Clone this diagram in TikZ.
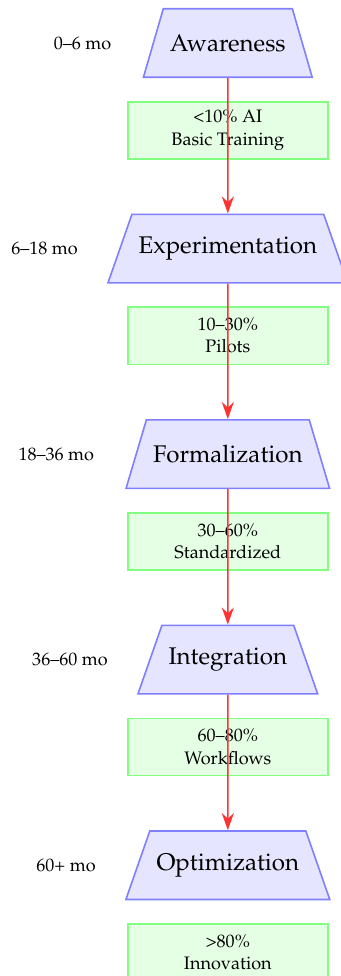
\documentclass[tikz,border=0pt]{standalone}
\usepackage[T1]{fontenc}
\usepackage{mathpazo}
\usepackage{xcolor}
\usetikzlibrary{positioning,shapes.geometric,arrows.meta}

\begin{document}
\begin{tikzpicture}[
    node distance=1cm,
    stagebox/.style={trapezium, trapezium left angle=57, trapezium right angle=57, trapezium stretches=true, draw=blue!50, fill=blue!10, thick, minimum height=1.2cm, font=\large, align=center},
    levelbox/.style={rectangle, draw=green!50, fill=green!10, thick, minimum width=3.5cm, minimum height=1cm, font=\small, align=center},
    timelabel/.style={font=\small},
    flow/.style={-{Stealth[length=8.5pt, width=6pt]}, thick, red!80}
]
\useasboundingbox (-3.99,0.753) rectangle (1.98,-16.34);

\node[stagebox] (awareness) at (0,0) {Awareness};
\node[stagebox] (experiment) at (0,-3.6) {Experimentation};
\node[stagebox] (formal) at (0,-7.2) {Formalization};
\node[stagebox] (integrate) at (0,-10.8) {Integration};
\node[stagebox] (optimize) at (0,-14.4) {Optimization};

% adoption levels
\node[levelbox, below=0.4cm of awareness] (aware-lvl) {<10\% AI\\Basic Training};
\node[levelbox, below=0.4cm of experiment] (exp-lvl) {10--30\%\\Pilots};
\node[levelbox, below=0.4cm of formal] (formal-lvl) {30--60\%\\Standardized};
\node[levelbox, below=0.4cm of integrate] (int-lvl) {60--80\%\\Workflows};
\node[levelbox, below=0.4cm of optimize] (opt-lvl) {>80\%\\Innovation};

% time ranges
\node[timelabel, left=0.6cm of awareness] (t1) {0--6 mo};
\node[timelabel, left=0.6cm of experiment] (t2) {6--18 mo};
\node[timelabel, left=0.6cm of formal] (t3) {18--36 mo};
\node[timelabel, left=0.6cm of integrate] (t4) {36--60 mo};
\node[timelabel, left=0.6cm of optimize] (t5) {60+ mo};

\draw[flow] (awareness) -- (experiment);
\draw[flow] (experiment) -- (formal);
\draw[flow] (formal) -- (integrate);
\draw[flow] (integrate) -- (optimize);

\end{tikzpicture}
\end{document}
